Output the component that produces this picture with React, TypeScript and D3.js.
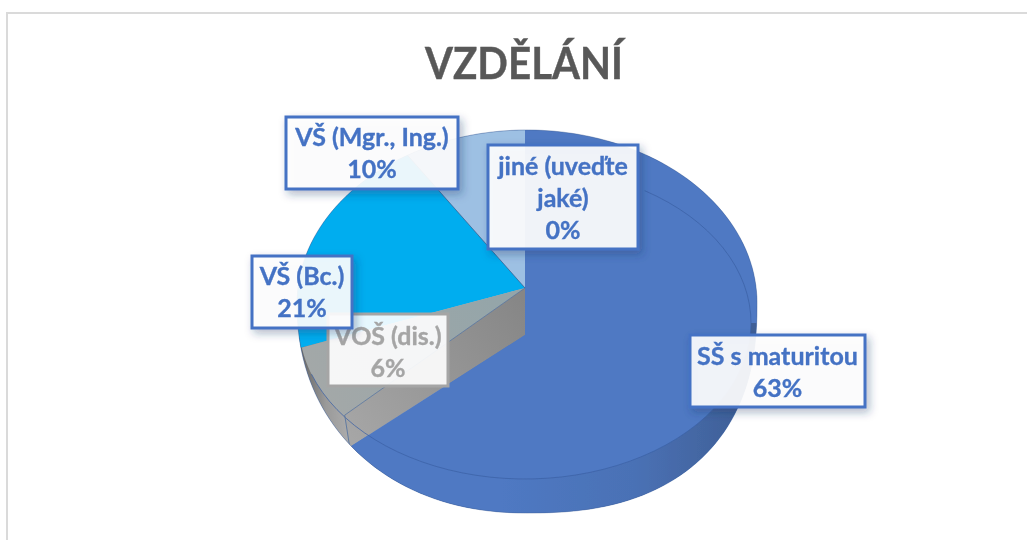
import React from "react";
import * as d3 from "d3";

const titleText = "VZDĚLÁNÍ";
const categories = ["SŠ s maturitou", "VOŠ (dis.)", "VŠ (Bc.)", "VŠ (Mgr., Ing.)", "jiné (uveďte jaké)"];
const shares = [63, 6, 21, 10, 0];
const labelLines = [
  ["SŠ s maturitou", "63%"],
  ["VOŠ (dis.)", "6%"],
  ["VŠ (Bc.)", "21%"],
  ["VŠ (Mgr., Ing.)", "10%"],
  ["jiné (uveďte", "jaké)", "0%"],
];

// layout, separate from the data
const boxes = [
  { x: 690, y: 335, w: 175, h: 72, base: 365, color: "#4472c4" },
  { x: 328, y: 314, w: 120, h: 72, base: 345, color: "#a5a5a5" },
  { x: 252, y: 256, w: 100, h: 72, base: 285, color: "#4472c4" },
  { x: 286, y: 117, w: 172, h: 72, base: 146, color: "#4472c4" },
  { x: 488, y: 145, w: 150, h: 104, base: 175, color: "#4472c4" },
];
const W = 1027;
const H = 540;
const apex = { x: 525, y: 288 };
const wallDrop = 47;
const outline = { cx: 527, cy: 303, a: 230, top: 173, bottom: 210, nRight: 2.4, nLeft: 2.15 };
const surface = { cx: 525, cy: 323, rx: 226, ry: 156 };

const pieGen = d3.pie<number>().sort(null).startAngle(0).endAngle(2 * Math.PI);
const arcs = pieGen(shares);

const ray = (cx: number, cy: number, a: number, rb: number, k = 3): [number, number] => {
  const c = Math.cos(a);
  const ry = c > 0 ? 188 : rb;
  return [cx + k * 229 * Math.sin(a), cy - k * ry * c];
};
const lineGen = d3.line<[number, number]>();
const wedge = (cx: number, cy: number, a0: number, a1: number, rb: number) => {
  const steps = d3.range(0, 41).map((i) => a0 + ((a1 - a0) * i) / 40);
  return lineGen([[cx, cy], ...steps.map((a) => ray(cx, cy, a, rb))]) + "Z";
};
const circle = d3.range(0, 361, 2).map((d) => (d * Math.PI) / 180);
const outlinePts: [number, number][] = circle.map((t) => {
  const s = Math.sin(t);
  const c = Math.cos(t);
  const { cx, cy, a, top, bottom, nRight, nLeft } = outline;
  if (c > 0) return [cx + a * s, cy - top * c];
  const n = s >= 0 ? nRight : nLeft;
  return [cx + a * Math.sign(s) * Math.pow(Math.abs(s), 2 / n), cy + bottom * Math.pow(Math.abs(c), 2 / n)];
});
const outlinePath = lineGen(outlinePts) + "Z";
const surfaceAt = (t: number): [number, number] => [
  surface.cx + surface.rx * Math.sin(t),
  surface.cy - surface.ry * Math.cos(t),
];
const surfacePath = lineGen(circle.map(surfaceAt)) + "Z";

export default function App() {
  const [ss, vos, bc, mgr] = arcs;
  const grayEnd = vos.endAngle;
  const blueEnd = ss.endAngle;
  const p1 = ray(apex.x, apex.y, blueEnd, 172, 1.08);
  const p2 = ray(apex.x, apex.y + wallDrop, blueEnd, 156, 1.05);
  const lineStart = (32 * Math.PI) / 180;
  const rimLine = lineGen(
    d3.range(0, 61).map((i) => surfaceAt(lineStart + ((blueEnd + 0.42 - lineStart) * i) / 60)),
  )!;
  const grayTop =
    lineGen([
      [apex.x, apex.y],
      ray(apex.x, apex.y, blueEnd, 172),
      ray(apex.x, apex.y, grayEnd, 154),
    ])! + "Z";
  const cyanBody =
    lineGen([
      [apex.x, apex.y],
      ray(apex.x, apex.y, grayEnd, 154),
      ...d3.range(1, 21).map((i) => ray(apex.x, apex.y, grayEnd + ((bc.endAngle - grayEnd) * i) / 20, 160)),
    ])! + "Z";
  return (
    <svg width={W} height={H} style={{ position: "absolute", left: 0, top: 0, background: "#fff" }}>
      <defs>
        <clipPath id="outline"><path d={outlinePath} /></clipPath>
        <clipPath id="surface"><path d={surfacePath} /></clipPath>
        <clipPath id="blueWedge"><path d={wedge(apex.x, apex.y + wallDrop, ss.startAngle, blueEnd, 156)} /></clipPath>
        <clipPath id="lowerHalf"><rect x={0} y={surface.cy} width={W} height={H - surface.cy} /></clipPath>
        <linearGradient id="sideGray" gradientUnits="userSpaceOnUse" x1="298" y1="0" x2="360" y2="0">
          <stop offset="0" stopColor="#5f5f5f" />
          <stop offset="0.45" stopColor="#9a9a9a" />
          <stop offset="1" stopColor="#b4b4b4" />
        </linearGradient>
        <linearGradient id="topGray" gradientUnits="userSpaceOnUse" x1="500" y1="290" x2="320" y2="390">
          <stop offset="0" stopColor="#94a5a9" />
          <stop offset="1" stopColor="#a3a8a8" />
        </linearGradient>
        <linearGradient id="wallGray" gradientUnits="userSpaceOnUse" x1="525" y1="300" x2="345" y2="430">
          <stop offset="0" stopColor="#868686" />
          <stop offset="1" stopColor="#a6a6a6" />
        </linearGradient>
        <linearGradient id="sideBlue" gradientUnits="userSpaceOnUse" x1="500" y1="0" x2="745" y2="0">
          <stop offset="0" stopColor="#4f79c3" />
          <stop offset="0.55" stopColor="#4a71b5" />
          <stop offset="1" stopColor="#3f5f96" />
        </linearGradient>
        <filter id="shadow" x="-20%" y="-20%" width="140%" height="140%">
          <feDropShadow dx="3" dy="4" stdDeviation="4" floodColor="#1f3864" floodOpacity="0.35" />
        </filter>
        <filter id="soft" x="-5%" y="-5%" width="110%" height="110%">
          <feGaussianBlur stdDeviation="0.45" />
        </filter>
      </defs>

      <g filter="url(#soft)">
        <path d={`M7 ${H}V13H${W}`} fill="none" stroke="#dadada" strokeWidth={2} />
        <text x={425} y={79} textLength={198} lengthAdjust="spacingAndGlyphs" fontFamily="Lato" fontWeight={700}
          fontSize={43} fill="#595959" stroke="#595959" strokeWidth={0.4}>
          {titleText}
        </text>

        <g clipPath="url(#outline)">
          <path d={outlinePath} fill="#4f79c3" />
          <path d={wedge(apex.x, apex.y, vos.startAngle - 0.3, bc.startAngle + 0.08, 163)} fill="url(#sideGray)" />
          <path d={cyanBody} fill="#00adef" />
          <path d={wedge(apex.x, apex.y, mgr.startAngle, mgr.endAngle, 163)} fill="#9dc0e3" />
          <g clipPath="url(#surface)">
            <path d={grayTop} fill="url(#topGray)" />
          </g>
          <path d={lineGen([[apex.x, apex.y], [apex.x, apex.y + wallDrop], p2, p1])! + "Z"} fill="url(#wallGray)" />
          <path d={wedge(apex.x, apex.y + wallDrop, ss.startAngle, blueEnd, 156)} fill="#4f79c3" />
          <g clipPath="url(#blueWedge)">
            <g clipPath="url(#lowerHalf)">
              <path d={outlinePath + surfacePath} fillRule="evenodd" fill="url(#sideBlue)" />
            </g>
          </g>
          <path d={rimLine} fill="none" stroke="#3c62a6" strokeOpacity={0.75} strokeWidth={1} />
          <path d={lineGen([p1, [apex.x, apex.y]])!} fill="none" stroke="#4f6f9f" strokeOpacity={0.7} />
          <path d={lineGen([p1, p2])!} fill="none" stroke="#4f6f9f" strokeOpacity={0.8} />
          <path d={lineGen([[apex.x, apex.y], ray(apex.x, apex.y, mgr.startAngle, 163)])!} fill="none" stroke="#2f5f8f" strokeOpacity={0.7} />
        </g>
        <path d={outlinePath} fill="none" stroke="#3f5f96" strokeOpacity={0.55} strokeWidth={0.8} />

        {boxes.map((b, i) => (
          <g key={categories[i]}>
            <rect x={b.x} y={b.y} width={b.w} height={b.h} fill="#fff" fillOpacity={0.9} stroke={b.color} strokeWidth={3}
              filter={b.color === "#4472c4" ? "url(#shadow)" : undefined} />
            {labelLines[i].map((t, j) => (
              <text key={j} x={b.x + b.w / 2} y={b.base + j * 32} textAnchor="middle"
                fontFamily="Lato" fontWeight={700} fontSize={25} fill={b.color} stroke={b.color} strokeWidth={0.35}>
                {t}
              </text>
            ))}
          </g>
        ))}
      </g>
    </svg>
  );
}
